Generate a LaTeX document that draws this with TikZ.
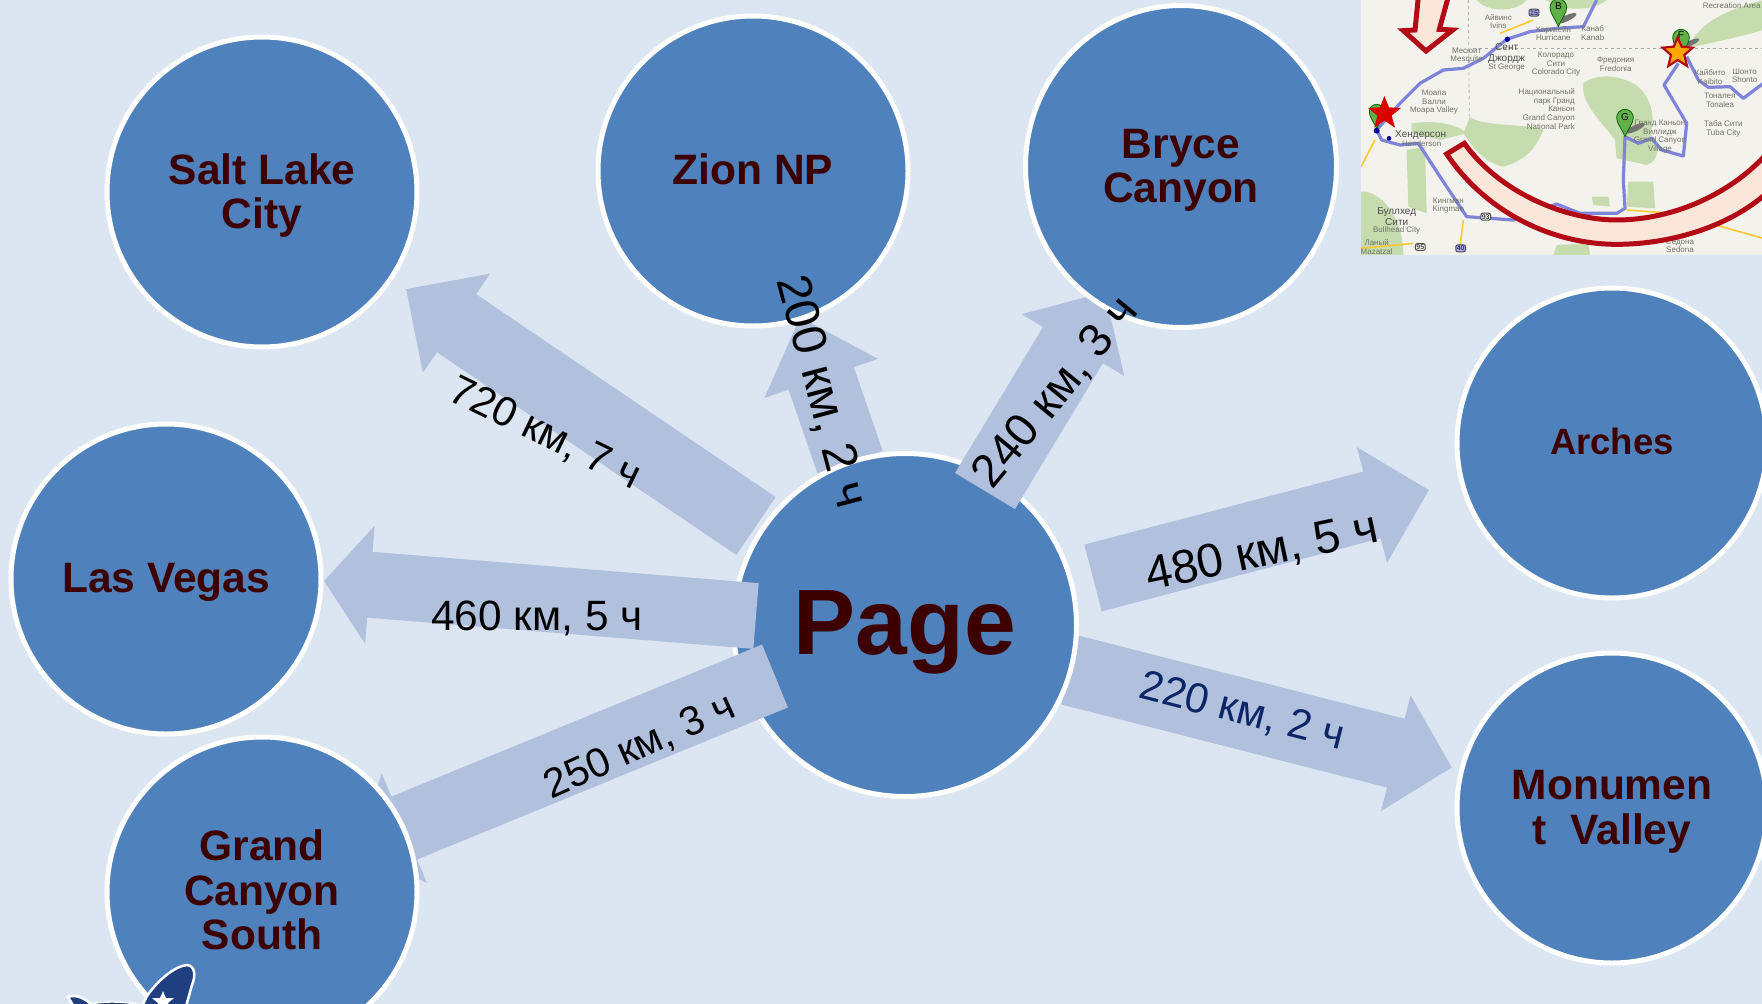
\documentclass[tikz,border=0pt]{standalone}
\usepackage{fontspec}
\setmainfont{Liberation Sans}
\usetikzlibrary{arrows.meta,shapes.geometric}
\definecolor{bgc}{HTML}{DCE6F2}
\definecolor{circ}{HTML}{4F81BD}
\definecolor{arr}{HTML}{B1C1DD}
\definecolor{dred}{HTML}{3C0000}
\definecolor{navyt}{HTML}{0B2566}
\definecolor{mapbg}{HTML}{F4F2EC}
\definecolor{mapgr}{HTML}{C6DCAE}
\definecolor{road}{HTML}{7F84DA}
\definecolor{redl}{HTML}{B30B16}
\definecolor{redf}{HTML}{FBE6DA}
\definecolor{pin}{HTML}{63B04A}
\definecolor{mapt}{HTML}{6F7468}
\definecolor{rock}{HTML}{203F80}
\tikzset{
  city/.style={circle,draw=white,line width=5pt,fill=circ,inner sep=0pt,outer sep=0pt,minimum size=310pt},
  citytext/.style={inner sep=0pt,outer sep=0pt,text=dred,align=center,font=\fontsize{42.5}{44.5}\selectfont\bfseries},
  big/.style={city,minimum size=343pt},
  blockarrow/.style 2 args={draw=arr,line width=#1,line cap=butt,
    -{Triangle[length=#2,width=116pt,inset=0pt,sep=0pt]}},
  dist/.style={inner sep=0pt,font=\fontsize{#1}{44}\selectfont,text=black},
  maplab/.style={inner sep=0pt,text=mapt,align=center,font=\fontsize{8}{8.6}\selectfont},
  mapbold/.style={maplab,text=black!70,font=\fontsize{10}{10.5}\selectfont},
  shield/.style={inner sep=1pt,draw=black!70,fill=white,rounded corners=2pt,line width=1pt,font=\fontsize{7}{7}\selectfont\bfseries,text=black!75},
  pinm/.style={fill=pin,draw=black!60!green,line width=.8pt}
}
\begin{document}
\begin{tikzpicture}[x=1pt,y=-1pt]
\path[use as bounding box,clip] (0,0) rectangle (1762,1004);
\fill[bgc] (0,0) rectangle (1762,1004);

% arrow ends
\coordinate (b720) at (756,526);  \coordinate (t720) at (406,289);
\coordinate (b460) at (756,616);  \coordinate (t460) at (324,581);
\coordinate (b250) at (775,676);  \coordinate (t250) at (358,847);
\coordinate (b200) at (850,462);  \coordinate (t200) at (800,317);
\coordinate (b240) at (985,491);  \coordinate (t240) at (1105,292);
\coordinate (b480) at (1093,578); \coordinate (t480) at (1429,490);
\coordinate (b220) at (1070,670); \coordinate (t220) at (1452,767.5);

\draw[blockarrow={70pt}{61pt}] (b720) -- (t720);
\draw[blockarrow={69pt}{65pt}] (b200) -- (t200);
\draw[blockarrow={71pt}{58pt}] (b220) -- (t220);
\draw[blockarrow={69pt}{59pt}] (b480) -- (t480);

\node[big,label={[citytext,font=\fontsize{93}{100}\selectfont\bfseries,yshift=-7.5pt]center:Page}] (page) at (905,625) {};

\draw[blockarrow={66pt}{46pt}] (b460) -- (t460);
\draw[blockarrow={68pt}{50pt}] (b250) -- (t250);
\draw[blockarrow={70pt}{62pt}] (b240) -- (t240);

\node[city,label={[citytext,yshift=-3.7pt]center:{Salt Lake\\City}}] (salt) at (262,192) {};
\node[city,label={[citytext,yshift=2pt]center:Zion NP}] (zion) at (753,171) {};
\node[ellipse,draw=white,line width=5pt,fill=circ,inner sep=0pt,outer sep=0pt,minimum width=311pt,minimum height=322pt,
  label={[citytext,yshift=-3.7pt]center:{Bryce\\Canyon}}] (bryce) at (1181,166.5) {};
\node[city,label={[citytext,font=\fontsize{36.5}{40}\selectfont\bfseries,yshift=1.2pt]center:Arches}] (arches) at (1612,443) {};
\node[city,label={[citytext,yshift=-4pt]center:{Monumen\\t\ \ Valley}}] (monu) at (1612,808) {};
\node[city,label={[citytext,yshift=-3.7pt]center:Las Vegas}] (vegas) at (166,579) {};
\node[city,label={[citytext,yshift=2pt]center:{Grand\\Canyon\\South}}] (grand) at (262,892) {};

\node[dist=41.5,rotate=-26] (l720) at (545,434) {720 км, 7 ч};
\node[dist=42.4] (l460) at (537,618) {460 км, 5 ч};
\node[dist=41,rotate=24] (l250) at (640,747) {250 км, 3 ч};
\node[dist=48,rotate=-75] (l200) at (821,392) {200 км, 2 ч};
\node[dist=46.5,rotate=50.5] (l240) at (1056,393) {240 км, 3 ч};
\node[dist=47.4,rotate=12] (l480) at (1262,553) {480 км, 5 ч};
\node[dist=42,rotate=-14.3,text=navyt] (l220) at (1242,712) {220 км, 2 ч};

% road map (coordinates in thirds of a pixel)
\begin{scope}[shift={(1340,0)},x=.33333pt,y=-.33333pt]
\begin{scope}
\clip (63,0) rectangle (1270,765);
\fill[mapbg] (63,0) rectangle (1270,765);
% green areas
\fill[mapgr] (410,0) .. controls (430,30) and (520,45) .. (560,0) -- cycle;
\fill[mapgr] (620,0) .. controls (660,35) and (760,35) .. (800,0) -- cycle;
\fill[mapgr] (390,350) .. controls (420,380) and (560,370) .. (610,390)
  .. controls (590,440) and (560,480) .. (490,500) .. controls (430,490) and (390,430) .. (370,400) -- cycle;
\fill[mapgr] (730,250) .. controls (770,220) and (830,225) .. (880,250)
  .. controls (930,280) and (950,350) .. (930,400) .. controls (960,440) and (960,480) .. (920,495)
  -- (830,475) -- (825,420) .. controls (790,370) and (720,310) .. (730,250) -- cycle;
\fill[mapgr] (200,450) -- (255,440) -- (260,640) -- (205,620) -- cycle;
\fill[mapgr] (63,575) .. controls (120,570) and (190,650) .. (190,765) -- (63,765) -- cycle;
\fill[mapgr] (865,545) -- (940,545) -- (945,625) -- (860,620) -- cycle;
\fill[mapgr] (755,590) -- (805,590) -- (810,620) -- (760,615) -- cycle;
\fill[mapgr] (650,735) -- (745,730) -- (750,765) -- (640,765) -- cycle;
\fill[mapgr] (1060,115) .. controls (1100,60) and (1160,30) .. (1270,0) -- (1270,90) .. controls (1200,110) and (1110,130) .. (1060,140) -- cycle;
\fill[mapgr] (215,370) .. controls (280,360) and (350,370) .. (380,400) -- (300,420) -- (215,400) -- cycle;
% minor roads
\draw[orange!55!yellow!80!white,line width=1.6pt] (63,500) -- (105,420);
\draw[orange!55!yellow!80!white,line width=1.6pt] (480,100) -- (580,60);
\draw[orange!55!yellow!80!white,line width=1.6pt] (860,630) -- (1000,640) -- (1270,715);
\draw[orange!55!yellow!80!white,line width=1.6pt] (63,745) -- (220,730);
\draw[orange!55!yellow!80!white,line width=1.6pt] (370,660) -- (360,740);
\draw[black!30,line width=.8pt,dashed] (385,0) -- (388,350);
\draw[black!35,line width=1pt,dashed] (400,145) -- (1270,145);
% route
\draw[road,line width=3.2pt,line join=round] (770,0) -- (730,80) -- (650,85) -- (570,95) -- (500,118)
  -- (430,175) -- (370,205) -- (310,210) -- (240,250) -- (180,310) -- (110,390) -- (125,420) -- (180,435)
  -- (235,430) -- (300,530) -- (380,650) -- (520,660) -- (650,612) -- (720,640) -- (830,640) -- (855,625)
  -- (850,540) -- (855,410) -- (895,430) -- (935,415) -- (965,450) -- (1030,468) -- (1040,370) -- (972,255)
  -- (1015,190);
\draw[road,line width=3.2pt,line join=round] (1040,170) -- (1075,240) -- (1105,262) -- (1170,260) -- (1210,295) -- (1270,250);
% labels
\node[maplab] at (475,65) {Айвинс\\Ivins};
\node[maplab] at (640,100) {Харикейн\\[-1pt]Hurricane};
\node[maplab] at (758,100) {Канаб\\Kanab};
\node[maplab] at (380,167) {Месюит\\Mesquite};
\node[mapbold] at (500,160) {Сент\\[0pt]Джордж};
\node[maplab] at (500,203) {St George};
\node[maplab] at (648,193) {Колорадо\\Сити\\Colorado City};
\node[maplab] at (827,193) {Фредония\\Fredonia};
\node[maplab,align=right,anchor=east] at (705,327) {Национальный\\парк Гранд\\Каньон\\Grand Canyon\\National Park};
\node[maplab] at (282,307) {Моапа\\Валли\\Moapa Valley};
\node[mapbold,anchor=west] at (165,404) {Хендерсон};
\node[maplab] at (245,432) {Henderson};
\node[maplab] at (1110,232) {Кайбито\\Kaibito};
\node[maplab] at (1214,227) {Шонто\\Shonto};
\node[maplab] at (1140,301) {Тоналея\\Tonalea};
\node[maplab] at (1150,386) {Таба Сити\\Tuba City};
\node[maplab] at (960,410) {Гранд Каньон\\Виллидж\\Grand Canyon\\Village};
\node[maplab] at (325,617) {Кингман\\Kingman};
\node[mapbold] at (170,650) {Буллхед\\Сити};
\node[maplab] at (170,691) {Bullhead City};
\node[maplab] at (110,742) {Ланый\\Mazatzal};
\node[maplab] at (1020,737) {Седона\\Sedona};
\node[maplab] at (1175,16) {Recreation Area};
% shields
\node[shield] at (437,650) {93};
\node[shield] at (241,741) {95};
\node[shield,fill=blue!35!white] at (362,745) {40};
\node[shield,fill=blue!35!white] at (582,38) {15};
% pins
\fill[black!55,rotate around={25:(680,55)}] (680,55) ellipse (32 and 9);
\draw[pinm] (655,80) .. controls (645,55) and (630,40) .. (630,22) arc (180:360:25) .. controls (680,40) and (665,55) .. (655,80) -- cycle;
\node[inner sep=0pt,font=\fontsize{10}{10}\selectfont] at (655,18) {B};
\fill[black!55,rotate around={25:(1050,130)}] (1050,130) ellipse (30 and 8);
\draw[pinm] (1023,170) .. controls (1013,145) and (998,130) .. (998,113) arc (180:360:25) .. controls (1048,130) and (1033,145) .. (1023,170) -- cycle;
\node[inner sep=0pt,font=\fontsize{10}{10}\selectfont] at (1023,106) {F};
\fill[black!55,rotate around={25:(885,385)}] (885,385) ellipse (32 and 9);
\draw[pinm] (855,410) .. controls (845,385) and (830,370) .. (830,353) arc (180:360:25) .. controls (880,370) and (865,385) .. (855,410) -- cycle;
\node[inner sep=0pt,font=\fontsize{10}{10}\selectfont] at (855,350) {G};
\draw[pinm] (110,385) .. controls (100,365) and (88,350) .. (88,335) arc (180:360:22) .. controls (132,350) and (120,365) .. (110,385) -- cycle;
\fill[blue!60!black] (502,118) circle (8) (110,392) circle (9) (147,415) circle (7);
% stars
\fill[red!85!black] (133,288) -- (147,322) -- (183,324) -- (155,347) -- (165,383) -- (133,362) -- (103,383) -- (112,347) -- (84,324) -- (120,322) -- cycle;
\draw[fill=orange!70!yellow,draw=redl,line width=2.2pt,line join=miter] (1013,112) -- (1025,140) -- (1058,143) -- (1033,165) -- (1041,198) -- (1013,180) -- (985,198) -- (993,165) -- (968,143) -- (1001,140) -- cycle;
% red arrow and arc
\draw[fill=redf,draw=redl,line width=5pt,line join=miter] (235,-10) -- (225,90) -- (190,92) -- (258,153) -- (338,90) -- (298,88) -- (325,-10);
\draw[fill=redf,draw=redl,line width=5pt,line join=miter] (320,462) -- (373,430)
  .. controls (480,580) and (680,660) .. (830,660) .. controls (1000,660) and (1180,580) .. (1290,450)
  -- (1290,570) .. controls (1180,675) and (1000,733) .. (830,733) .. controls (640,733) and (440,640) .. (320,462) -- cycle;
\end{scope}
\end{scope}

% emblem at the lower left corner
\path[fill=rock,draw=white,line width=2.5pt] (147,996) .. controls (158,980) and (175,966) .. (187,965)
  .. controls (195,966) and (196,975) .. (192,985) -- (185,1010) -- (140,1010) -- cycle;
\fill[white] (163,991) -- (166,998) -- (174,998) -- (168,1003) -- (170,1010) -- (163,1006) -- (156,1010) -- (158,1003) -- (152,998) -- (160,998) -- cycle;
\path[fill=rock,draw=white,line width=2.5pt] (68,997) .. controls (75,994) and (85,998) .. (92,1005) -- (76,1010) -- cycle;
\path[fill=rock,draw=white,line width=1.5pt] (90,1004) .. controls (105,1001) and (125,1001) .. (147,1006) -- (90,1010) -- cycle;
\end{tikzpicture}
\end{document}
